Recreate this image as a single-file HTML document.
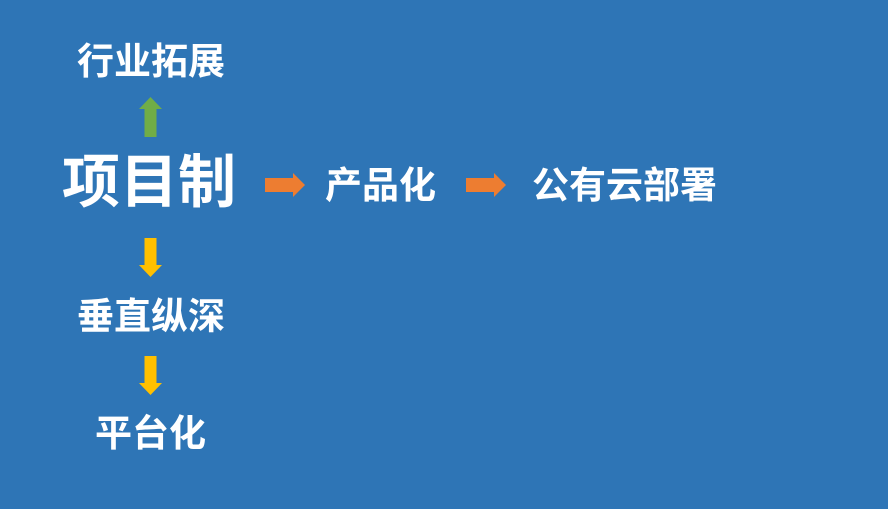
<!DOCTYPE html>
<html><head><meta charset="utf-8"><style>
body{margin:0;width:888px;height:509px;background:#2E75B6;overflow:hidden;position:relative;font-family:"Liberation Sans","Noto Sans CJK SC",sans-serif;font-weight:bold;color:#fff}
.t{position:absolute;white-space:nowrap;line-height:1}
svg{position:absolute;left:0;top:0}
</style></head><body>
<div class="t" style="left:77px;top:43px;font-size:37px">行业拓展</div>
<div class="t" style="left:62px;top:154px;font-size:58px">项目制</div>
<div class="t" style="left:325px;top:167px;font-size:37px">产品化</div>
<div class="t" style="left:532px;top:167px;font-size:37px">公有云部署</div>
<div class="t" style="left:77px;top:298px;font-size:37px">垂直纵深</div>
<div class="t" style="left:95px;top:415px;font-size:37px">平台化</div>
<svg width="888" height="509">
<polygon points="150.5,97 162,109 156.5,109 156.5,137 144.5,137 144.5,109 139,109" fill="#70AD47"/>
<polygon points="265,178 293,178 293,173 305,185 293,197 293,192 265,192" fill="#ED7D31"/>
<polygon points="466,178 494,178 494,173 506,185 494,197 494,192 466,192" fill="#ED7D31"/>
<polygon points="144.5,238 156.5,238 156.5,265 162,265 150.5,277 139,265 144.5,265" fill="#FFC000"/>
<polygon points="144.5,356 156.5,356 156.5,383 162,383 150.5,395 139,383 144.5,383" fill="#FFC000"/>
</svg>
</body></html>
